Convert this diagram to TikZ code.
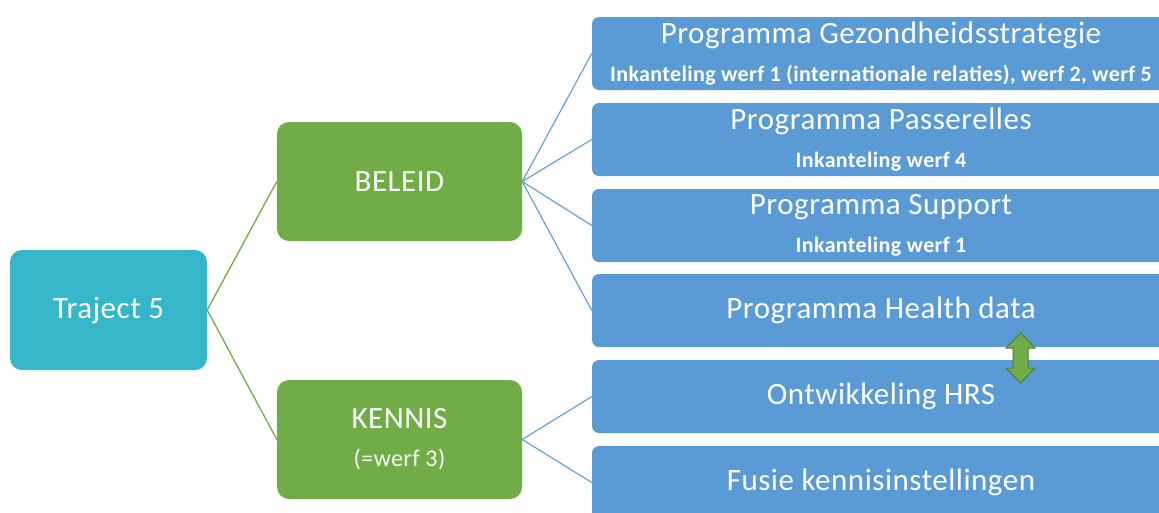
\documentclass[tikz,border=0pt]{standalone}
\usepackage{fontspec}
\setmainfont[LetterSpace=1.7]{Carlito}
\usetikzlibrary{positioning}

\definecolor{tealbox}{HTML}{35B7C9}
\definecolor{greenbox}{HTML}{70AD47}
\definecolor{bluebox}{HTML}{5B9BD5}
\definecolor{darkgreen}{HTML}{507E32}

\newcommand{\subline}[1]{{\fontsize{22}{26}\selectfont\bfseries #1}}

\begin{document}
\begin{tikzpicture}[x=1pt, y=-1pt,
    every node/.style={font=\fontsize{31}{38}\selectfont, text=white, align=center, inner sep=0pt},
    rootbox/.style={fill=tealbox, rounded corners=12pt, minimum width=197pt, minimum height=120pt},
    mainbox/.style={fill=greenbox, rounded corners=12pt, minimum width=245pt, minimum height=119pt},
    progbox/.style={fill=bluebox, rounded corners=7pt, minimum width=578pt, minimum height=73pt},
    greenline/.style={draw=greenbox, line width=1.3pt},
    blueline/.style={draw=bluebox, line width=1.1pt}]
    \useasboundingbox (0,0) rectangle (1159,512);

    \node[rootbox] (traject) at (108.5,310) {Traject 5};
    \node[mainbox] (beleid) at (399.5,181.5) {BELEID};
    \node[mainbox] (kennis) at (399.5,439.5) {KENNIS\\{\fontsize{24}{28}\selectfont (=werf 3)}};

    \node[progbox] (gezond) at (881,53.5) {Programma Gezondheidsstrategie\\[0pt]\subline{Inkanteling werf 1 (internationale relaties), werf 2, werf 5}};
    \node[progbox] (passer) at (881,139.5) {Programma Passerelles\\[0pt]\subline{Inkanteling werf 4}};
    \node[progbox] (support) at (881,225.5) {Programma Support\\[0pt]\subline{Inkanteling werf 1}};
    \node[progbox] (health) at (881,310.5) {Programma Health data};
    \node[progbox] (hrs) at (881,396.5) {Ontwikkeling HRS};
    \node[progbox] (fusie) at (881,482.5) {Fusie kennisinstellingen};

    % connectors
    \draw[greenline] (beleid.west) -- (traject.east) -- (kennis.west);
    \foreach \n in {gezond,passer,support,health}
      \draw[blueline] (beleid.east) -- (\n.west);
    \foreach \n in {hrs,fusie}
      \draw[blueline] (kennis.east) -- (\n.west);

    % double arrow
    \draw[fill=greenbox, draw=darkgreen, line width=1pt, line join=miter]
      (1020.5,333) -- (1035,348) -- (1028,348) -- (1028,368) -- (1035,368)
      -- (1020.5,383) -- (1006,368) -- (1013,368) -- (1013,348) -- (1006,348) -- cycle;
\end{tikzpicture}
\end{document}
